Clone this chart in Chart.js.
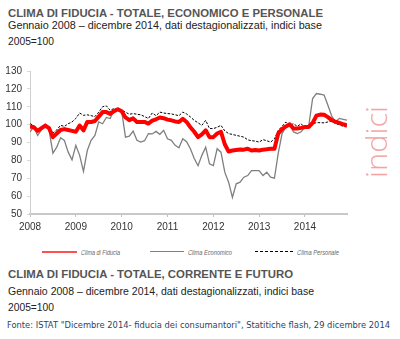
<!DOCTYPE html>
<html>
<head>
<meta charset="utf-8">
<script src="https://cdn.jsdelivr.net/npm/chart.js@4.4.0/dist/chart.umd.min.js"></script>
<style>
  html, body { margin:0; padding:0; background:#fff; }
  body { width:400px; height:339px; position:relative; overflow:hidden; }
  .t { position:absolute; white-space:nowrap; transform-origin:0 50%; line-height:1; }
  .narrow { font-family:"Liberation Sans Narrow","Arial Narrow","Liberation Sans",Arial,sans-serif; }
  .title { font-weight:bold; color:#555; font-size:11.5px; }
  .sub { color:#222; font-size:11.5px; }
  .fonte { font-family:"DejaVu Sans",sans-serif; font-size:8.6px; color:#2e4560; }
  .lg { position:absolute; font-family:"Liberation Sans",Arial,sans-serif; font-style:italic; font-size:7px; color:#666; white-space:nowrap; transform-origin:0 50%; line-height:1; }
  .ln { position:absolute; }
  #indici { position:absolute; font-family:"Open Sans","Liberation Sans",sans-serif; font-weight:300; font-size:30px; color:#f4a3a3; line-height:1; white-space:nowrap; }
  #chartWrap { position:absolute; left:0; top:60px; width:400px; height:180px; }
</style>
</head>
<body>
<div class="t narrow title" data-w="315" style="left:8px;top:8px;">CLIMA DI FIDUCIA - TOTALE, ECONOMICO E PERSONALE</div>
<div class="t narrow sub" data-w="314" style="left:8px;top:19.5px;">Gennaio 2008 – dicembre 2014, dati destagionalizzati, indici base</div>
<div class="t narrow sub" data-w="46" style="left:8px;top:36px;">2005=100</div>

<div id="chartWrap"><canvas id="c" width="400" height="180"></canvas></div>

<div id="indici">indici</div>

<div class="ln" style="left:42px;top:250.5px;width:35px;height:2px;background:#ff5050;"></div>
<div class="lg" data-w="39" style="left:81px;top:248.5px;">Clima di Fiducia</div>
<div class="ln" style="left:150px;top:251px;width:34px;height:1px;background:#808080;"></div>
<div class="lg" data-w="44" style="left:188px;top:248.5px;">Clima Economico</div>
<div class="ln" style="left:255px;top:251px;width:38px;height:0;border-top:1px dashed #000;"></div>
<div class="lg" data-w="42" style="left:297px;top:248.5px;">Clima Personale</div>

<div class="t narrow title" data-w="285" style="left:8px;top:268.5px;">CLIMA DI FIDUCIA - TOTALE, CORRENTE E FUTURO</div>
<div class="t narrow sub" data-w="306" style="left:8px;top:285.5px;">Gennaio 2008 – dicembre 2014, dati destagionalizzati, indici base</div>
<div class="t narrow sub" data-w="46" style="left:8px;top:301.5px;">2005=100</div>
<div class="t fonte" data-w="383" style="left:6.5px;top:320.5px;">Fonte: ISTAT "Dicembre 2014- fiducia dei consumantori", Statitiche flash, 29 dicembre 2014</div>

<script>
// ---- data (monthly, Jan 2008 – Dec 2014) ----
const tickYears = ['2008','2009','2010','2011','2012','2013','2014'];
const seriesNames = ['Clima di Fiducia','Clima Economico','Clima Personale'];
const climaFiducia = [
  99,98.5,96.5,98,99.5,98,93,95,97,97.5,97,96.5,
  96,99.5,96.8,101.5,101.5,102,104.5,107,107,106,107.5,108.6,
  107.5,104,102.5,103.5,101.5,101.5,101.5,100.6,102.2,103,104,103.6,
  102.8,102.4,101.8,101.5,103.2,101.5,98.5,96,93,94.5,96.8,93,
  93,95,96,89,85,85.5,85.8,86.1,86,86.5,85.5,85.8,
  85.5,86,86.2,86.5,86.5,95,97.5,99,100.2,97.8,97.8,98.2,
  98.7,98.7,101,105,105.6,105.5,104.2,102.5,101.6,101,100.2,99.6
];
const climaEconomico = [
  96,98.7,94,97,100.2,96.8,84,87.4,92.7,91.2,84.6,80.3,
  88.4,82.8,73.8,85.5,91.2,94,101.5,100.5,104,103.4,108.4,109,
  107.5,93,93.5,96.4,91.2,90.2,91,95,94.8,96.2,94.6,96.8,
  92.1,91.2,88.4,87.1,92.1,90.5,86.5,81,77,82.8,87.4,78.1,
  77.1,86.5,84.6,73.4,67.8,59.3,66.9,67.8,70.6,71.5,74.3,74.3,
  74.3,71.5,73.4,70.6,70,84,95,98.7,100.5,95.9,95,96,
  98.7,99.6,114.6,117.4,117,116.5,110.8,104.8,101.5,103.5,103,102.5
];
const climaPersonale = [
  100.5,99.5,96.5,98,100.2,98,95.3,97,99.6,99,100.5,101.5,
  103.5,106.5,105.2,105.5,105,104.5,107,110,110.5,108,109,108.8,
  108,107,105.8,106.2,105.8,105.5,104.5,103.4,106.5,105,107,106.5,
  106.2,106,105.5,105,107,106,104.3,102.4,101,99.6,102.4,97.8,
  97.8,98.5,99.6,96.5,95,94.5,94,93.5,93,91.5,91,90.8,
  90.2,91.6,91,90.2,92,96.8,99,101.5,99.6,100.5,99,100.5,
  98,99.6,100.5,101.1,101.1,101,101.5,101.9,100.5,100,99,98.7
];
const yTicks = [50,60,70,80,90,100,110,120,130];

// ---- fit text widths ----
document.querySelectorAll('[data-w]').forEach(el => {
  const w = el.getBoundingClientRect().width;
  const target = parseFloat(el.dataset.w);
  if (w > 0) el.style.transform = 'scaleX(' + (target / w) + ')';
});
(function(){
  const el = document.getElementById('indici');
  const w = el.getBoundingClientRect().width;
  const h = el.getBoundingClientRect().height;
  const s = 72 / w;
  el.style.left = (376 - w/2) + 'px';
  el.style.top = (141.5 - h/2) + 'px';
  el.style.transform = 'rotate(-90deg) scaleX(' + s + ')';
})();

const toPts = arr => arr.map((v, i) => ({x: i, y: v}));
const tickFont = {family: "'Liberation Sans Narrow','Arial Narrow','Liberation Sans',Arial,sans-serif", size: 10};

new Chart(document.getElementById('c'), {
  type: 'line',
  data: {
    datasets: [
      {label: seriesNames[0], data: toPts(climaFiducia), borderColor: '#ff0000', borderWidth: 4, pointRadius: 0, tension: 0, borderJoinStyle: 'round', fill: false},
      {label: seriesNames[1], data: toPts(climaEconomico), borderColor: '#7f7f7f', borderWidth: 1.3, pointRadius: 0, tension: 0, fill: false},
      {label: seriesNames[2], data: toPts(climaPersonale), borderColor: '#000000', borderWidth: 1, borderDash: [2.5, 1.5], pointRadius: 0, tension: 0, fill: false}
    ]
  },
  options: {
    responsive: false,
    animation: false,
    devicePixelRatio: 1,
    layout: {padding: {left: 0, right: 53, top: 10, bottom: 0}},
    plugins: {legend: {display: false}, tooltip: {enabled: false}},
    scales: {
      x: {
        type: 'linear', min: 0, max: 83,
        afterFit: s => { s.height = 26; },
        afterBuildTicks: s => { s.ticks = tickYears.map((y, i) => ({value: i * 12})); },
        ticks: {callback: v => tickYears[Math.round(v / 12)], color: '#333', font: tickFont, padding: 4, maxRotation: 0, autoSkip: false},
        grid: {drawOnChartArea: false, drawTicks: true, tickLength: 3, color: '#c0c0c0'},
        border: {color: '#c8c8c8', width: 2}
      },
      y: {
        min: 50, max: 130,
        afterFit: s => { s.width = 30; },
        afterBuildTicks: s => { s.ticks = yTicks.map(v => ({value: v})); },
        ticks: {color: '#333', font: tickFont, padding: 5},
        grid: {drawOnChartArea: false, drawTicks: true, tickLength: 3, color: '#d8d8d8'},
        border: {color: '#d0d0d0', width: 1}
      }
    }
  }
});
</script>
</body>
</html>
